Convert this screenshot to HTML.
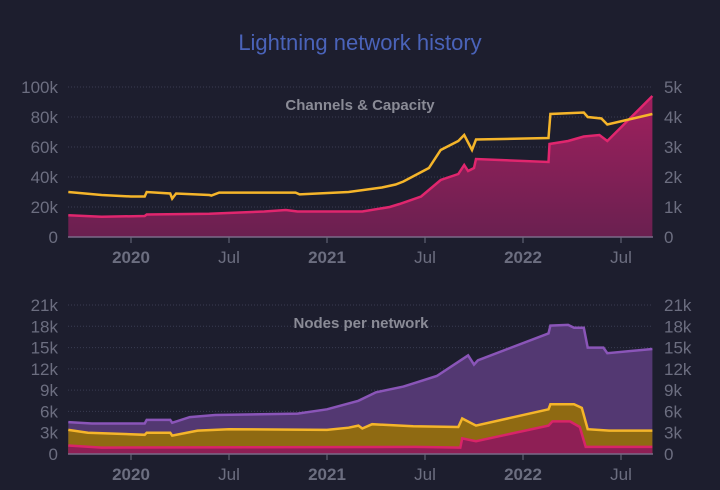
<!DOCTYPE html>
<html><head><meta charset="utf-8"><style>
html,body{margin:0;padding:0;background:#1d1e2e;}
svg{display:block;font-family:"Liberation Sans",sans-serif;}
</style></head><body>
<svg id="c" width="720" height="490">
<rect width="720" height="490" fill="#1d1e2e"/>
<text x="360" y="50" text-anchor="middle" font-size="22" fill="#4a63b9">Lightning network history</text>
</svg>
<script>
// Top chart data (x in fractional years)
const chanX=[2019.68,2019.85,2020.07,2020.08,2020.4,2020.68,2020.79,2020.85,2021.18,2021.32,2021.37,2021.48,2021.58,2021.67,2021.70,2021.72,2021.75,2021.76,2022.13,2022.135,2022.23,2022.31,2022.39,2022.43,2022.66];
const chanV=[14.5,13.5,14,15,15.5,17,18,17,17,20,22,27,38,42,48,44,46,52,50,62,64,67,68,64,94];
const capX=[2019.68,2019.85,2020.0,2020.07,2020.08,2020.2,2020.21,2020.23,2020.40,2020.41,2020.45,2020.84,2020.86,2021.11,2021.28,2021.35,2021.39,2021.52,2021.58,2021.67,2021.70,2021.74,2021.76,2022.13,2022.14,2022.31,2022.33,2022.40,2022.43,2022.66];
const capV=[1.5,1.4,1.35,1.35,1.5,1.45,1.28,1.45,1.4,1.38,1.48,1.48,1.42,1.5,1.65,1.75,1.85,2.3,2.9,3.2,3.4,2.9,3.25,3.3,4.1,4.15,4.0,3.95,3.75,4.1];
const leftTicks=["0","20k","40k","60k","80k","100k"];
const rightTicks=["0","1k","2k","3k","4k","5k"];
// Bottom chart data
const totX=[2019.68,2019.8,2020.07,2020.08,2020.2,2020.21,2020.3,2020.43,2020.85,2021.0,2021.16,2021.25,2021.39,2021.56,2021.72,2021.75,2021.77,2022.13,2022.14,2022.23,2022.26,2022.31,2022.33,2022.41,2022.43,2022.66];
const totV=[4.5,4.3,4.3,4.8,4.8,4.4,5.2,5.5,5.7,6.3,7.5,8.7,9.5,11,13.9,12.6,13.2,17,18.1,18.2,17.8,17.8,15,15,14.2,14.8];
const ylwX=[2019.68,2019.78,2020.07,2020.08,2020.20,2020.21,2020.34,2020.5,2021.0,2021.11,2021.16,2021.18,2021.23,2021.44,2021.67,2021.69,2021.76,2022.13,2022.14,2022.26,2022.30,2022.33,2022.44,2022.66];
const ylwV=[3.4,3.0,2.7,3.0,3.0,2.6,3.3,3.5,3.4,3.7,4.0,3.6,4.2,3.9,3.8,5.0,4.0,6.3,7.0,7.0,6.5,3.5,3.3,3.3];
const pnkX=[2019.68,2019.85,2021.45,2021.68,2021.69,2021.76,2022.13,2022.15,2022.24,2022.29,2022.32,2022.66];
const pnkV=[1.2,0.9,1.0,0.9,2.2,1.8,4.0,4.6,4.6,3.8,1.0,1.0];
const nodeTicks=["0","3k","6k","9k","12k","15k","18k","21k"];
const xTickYears=[2020,2020.5,2021,2021.5,2022,2022.5];
const xTickLabels=["2020","Jul","2021","Jul","2022","Jul"];

const NS="http://www.w3.org/2000/svg";
const svg=document.getElementById('c');
function mk(t,a){const e=document.createElementNS(NS,t);for(const k in a)e.setAttribute(k,a[k]);svg.appendChild(e);return e;}
const X0=68,X1=653;
function xs(y){return 131+(y-2020)*196;}
function yTop(v){return 237-v/100*150;}
function yTopR(v){return 237-v/5*150;}
function yBot(v){return 454-v/21*149;}
function pts(xa,va,yf){return xa.map((x,i)=>xs(x).toFixed(1)+','+yf(va[i]).toFixed(1));}
function areaPath(xa,va,yf,base){const p=pts(xa,va,yf);return 'M'+xs(xa[0])+','+base+' L'+p.join(' L')+' L'+xs(xa[xa.length-1])+','+base+' Z';}
function linePath(xa,va,yf){return 'M'+pts(xa,va,yf).join(' L');}

const defs=mk('defs',{});
defs.innerHTML='<linearGradient id="pg" x1="0" y1="0" x2="0" y2="1"><stop offset="0" stop-color="#a0205e"/><stop offset="1" stop-color="#6a2050"/></linearGradient>';

leftTicks.forEach((t,i)=>{const y=237-i*30;
 const g=mk('line',{x1:X0,x2:X1,y1:y,y2:y,stroke:'#3a3c52','stroke-dasharray':'1,2'});
 
 const l=mk('text',{x:58,y:y+6,'text-anchor':'end','font-size':17,fill:'#6c6e80'});l.textContent=t;
 
 const r=mk('text',{x:664,y:y+6,'font-size':17,fill:'#6c6e80'});r.textContent=rightTicks[i];
 
});
let tt=mk('text',{x:360,y:110,'text-anchor':'middle','font-size':15,'font-weight':'bold',fill:'#8a8b96'});tt.textContent='Channels & Capacity';

let e=mk('path',{d:areaPath(chanX,chanV,yTop,237),fill:'url(#pg)'});

e=mk('path',{d:linePath(chanX,chanV,yTop),fill:'none',stroke:'#e0266e','stroke-width':2.5});

e=mk('path',{d:linePath(capX,capV,yTopR),fill:'none',stroke:'#f5b52a','stroke-width':2.5});

e=mk('line',{x1:X0,x2:X1,y1:237,y2:237,stroke:'#7a6a88','stroke-width':1.5});


nodeTicks.forEach((t,i)=>{const y=454-i*149/7;
 const g=mk('line',{x1:X0,x2:X1,y1:y,y2:y,stroke:'#3a3c52','stroke-dasharray':'1,2'});
 
 const l=mk('text',{x:58,y:y+6,'text-anchor':'end','font-size':17,fill:'#6c6e80'});l.textContent=t;
 
 const r=mk('text',{x:664,y:y+6,'font-size':17,fill:'#6c6e80'});r.textContent=t;
 
});
tt=mk('text',{x:361,y:328,'text-anchor':'middle','font-size':15,'font-weight':'bold',fill:'#8a8b96'});tt.textContent='Nodes per network';

e=mk('path',{d:areaPath(totX,totV,yBot,454),fill:'#533872'});

e=mk('path',{d:linePath(totX,totV,yBot),fill:'none',stroke:'#8a55b8','stroke-width':2.5});

e=mk('path',{d:areaPath(ylwX,ylwV,yBot,454),fill:'#8f6a12'});

e=mk('path',{d:linePath(ylwX,ylwV,yBot),fill:'none',stroke:'#f5b52a','stroke-width':2.5});

e=mk('path',{d:areaPath(pnkX,pnkV,yBot,454),fill:'#8e1f55'});

e=mk('path',{d:linePath(pnkX,pnkV,yBot),fill:'none',stroke:'#d82468','stroke-width':2.5});

e=mk('line',{x1:X0,x2:X1,y1:454,y2:454,stroke:'#7a6a88','stroke-width':1.5});


xTickYears.forEach((yr,i)=>{const x=xs(yr);const bold=i%2==0;
 [[237,263],[454,480]].forEach(([ay,ly])=>{
  const t=mk('line',{x1:x,x2:x,y1:ay,y2:ay+6,stroke:'#6c6e80'});
  
  const l=mk('text',{x:x,y:ly,'text-anchor':'middle','font-size':17,fill:'#6c6e80','font-weight':bold?'bold':'normal'});
  l.textContent=xTickLabels[i];
  
 });
});
</script>
</body></html>
